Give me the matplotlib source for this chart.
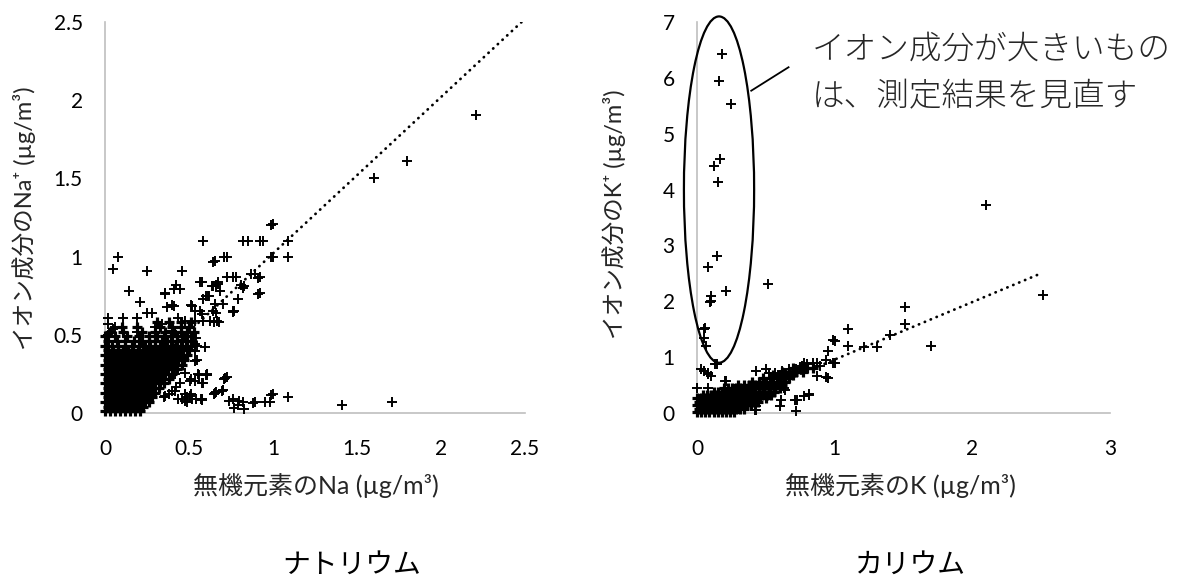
import matplotlib
matplotlib.use("Agg")
import matplotlib.pyplot as plt
import matplotlib.patches as mpatches

FONTS = ["Lato", "Noto Sans CJK JP", "DejaVu Sans"]
plt.rcParams["font.family"] = FONTS

BG = "#FFFFFF"
INK = "#000000"
TEXT = "#262626"
AXIS = "#BFBFBF"

# ---- sodium panel ----
# dense core, read row by row (y level -> x positions)
NA_ROW_Y = [0.01, 0.04, 0.07, 0.10, 0.13, 0.16, 0.19, 0.22, 0.25, 0.28,
            0.31, 0.34, 0.37, 0.40, 0.43, 0.46, 0.49, 0.52, 0.55, 0.58]
NA_ROW_X = [
    [0.00, 0.03, 0.06, 0.09, 0.12, 0.15, 0.18, 0.21],
    [0.015, 0.045, 0.075, 0.105, 0.135, 0.165, 0.195, 0.225],
    [0.00, 0.03, 0.06, 0.09, 0.12, 0.15, 0.18, 0.21, 0.24, 0.26],
    [0.015, 0.045, 0.075, 0.105, 0.135, 0.165, 0.195, 0.225, 0.255, 0.28],
    [0.00, 0.03, 0.06, 0.09, 0.12, 0.15, 0.18, 0.21, 0.24, 0.27, 0.30],
    [0.015, 0.045, 0.075, 0.105, 0.135, 0.165, 0.195, 0.225, 0.255, 0.285, 0.32],
    [0.00, 0.03, 0.06, 0.09, 0.12, 0.15, 0.18, 0.21, 0.24, 0.27, 0.30, 0.33, 0.35],
    [0.015, 0.045, 0.075, 0.105, 0.135, 0.165, 0.195, 0.225, 0.255, 0.285, 0.315, 0.345, 0.38],
    [0.00, 0.03, 0.06, 0.09, 0.12, 0.15, 0.18, 0.21, 0.24, 0.27, 0.30, 0.33, 0.36, 0.40],
    [0.015, 0.045, 0.075, 0.105, 0.135, 0.165, 0.195, 0.225, 0.255, 0.285, 0.315, 0.345, 0.375, 0.405, 0.43],
    [0.00, 0.03, 0.06, 0.09, 0.12, 0.15, 0.18, 0.21, 0.24, 0.27, 0.30, 0.33, 0.36, 0.39, 0.42, 0.46],
    [0.015, 0.045, 0.075, 0.105, 0.135, 0.165, 0.195, 0.225, 0.255, 0.285, 0.315, 0.345, 0.375, 0.405, 0.435, 0.47],
    [0.00, 0.03, 0.06, 0.09, 0.12, 0.15, 0.18, 0.21, 0.24, 0.27, 0.30, 0.33, 0.36, 0.39, 0.42, 0.45, 0.49],
    [0.015, 0.045, 0.075, 0.105, 0.135, 0.165, 0.195, 0.225, 0.255, 0.285, 0.315, 0.345, 0.375, 0.405, 0.435, 0.465, 0.50],
    [0.00, 0.04, 0.08, 0.12, 0.16, 0.20, 0.24, 0.27, 0.30, 0.33, 0.36, 0.39, 0.42, 0.45, 0.48, 0.51],
    [0.02, 0.07, 0.12, 0.17, 0.22, 0.26, 0.30, 0.34, 0.37, 0.40, 0.43, 0.46, 0.49, 0.52],
    [0.00, 0.06, 0.13, 0.20, 0.26, 0.31, 0.35, 0.39, 0.43, 0.47, 0.51],
    [0.03, 0.11, 0.22, 0.30, 0.36, 0.41, 0.45, 0.49, 0.53],
    [0.10, 0.19, 0.33, 0.40, 0.45, 0.50],
    [0.31, 0.38, 0.45, 0.51],
]
# scattered points outside the core
NA_X = [2.21, 1.80, 1.60, 1.41, 1.71, 1.00, 0.585, 0.85, 0.94, 1.09, 1.00, 1.09,
        0.08, 0.05, 0.25, 0.456, 0.656, 0.725, 0.144, 0.21, 0.25, 0.28, 0.36, 0.42,
        0.445, 0.41, 0.58, 0.66, 0.67, 0.725, 0.78, 0.83, 0.89, 0.92, 0.92, 0.77,
        0.66, 0.79, 0.60, 0.62, 0.51, 0.40, 0.015, 0.015, 0.06, 0.11, 0.19, 0.02,
        0.65, 0.68, 0.54, 0.55, 0.49, 0.55, 0.725, 0.66, 0.70, 0.60, 0.56, 0.51,
        0.445, 0.42, 0.38, 0.35, 0.456, 0.49, 0.54, 0.57, 0.49, 0.51, 0.76, 0.79,
        0.82, 0.83, 0.89, 0.95, 0.98, 1.00, 1.09, 0.74, 0.77, 0.80, 0.88, 0.99,
        0.61, 0.58, 0.71, 0.65, 0.70, 0.58, 0.645, 0.71, 0.76, 0.87, 0.81, 0.82,
        0.76, 0.645, 0.675, 0.685, 0.585, 0.615, 0.655, 0.70, 0.645, 0.665, 0.625,
        0.585, 0.82, 0.92, 0.99, 0.565, 0.99, 0.357, 0.367, 0.41, 0.516, 0.565,
        0.764, 0.913, 0.913, 0.635, 0.575, 0.536, 0.536, 0.476, 0.436, 0.129, 0.188,
        0.298, 0.337, 0.397, 0.536, 0.536, 0.536, 0.595, 0.555, 0.605, 0.585, 0.714,
        0.417, 0.476, 0.506, 0.536, 0.655, 0.695, 0.436, 0.476, 0.516, 0.576,
        0.476, 0.506, 0.417, 0.357, 0.397, 0.02, 0.05]
NA_Y = [1.905, 1.61, 1.50, 0.05, 0.07, 1.21, 1.10, 1.10, 1.10, 1.10, 1.00, 1.00,
        1.00, 0.92, 0.91, 0.905, 0.97, 1.00, 0.777, 0.71, 0.64, 0.64, 0.77, 0.82,
        0.79, 0.79, 0.84, 0.82, 0.84, 0.87, 0.87, 0.81, 0.89, 0.87, 0.77, 0.655,
        0.64, 0.73, 0.745, 0.745, 0.69, 0.69, 0.606, 0.57, 0.548, 0.606, 0.606, 0.50,
        0.584, 0.584, 0.477, 0.43, 0.37, 0.34, 0.23, 0.135, 0.145, 0.24, 0.24, 0.22,
        0.19, 0.167, 0.124, 0.10, 0.092, 0.07, 0.092, 0.092, 0.103, 0.124, 0.092, 0.049,
        0.07, 0.028, 0.07, 0.07, 0.07, 0.124, 0.103, 0.077, 0.03, 0.077, 0.064, 0.115,
        0.24, 0.19, 0.22, 0.12, 0.15, 0.08, 0.963, 1.00, 0.87, 0.89, 0.82, 0.80,
        0.65, 0.81, 0.825, 0.78, 0.73, 0.75, 0.70, 0.70, 0.65, 0.59, 0.59,
        0.59, 1.10, 1.10, 1.205, 0.835, 1.00, 0.76, 0.68, 0.686, 0.686, 0.65,
        0.647, 0.76, 0.86, 0.814, 0.63, 0.654, 0.59, 0.59, 0.61, 0.483, 0.515,
        0.547, 0.568, 0.526, 0.44, 0.397, 0.333, 0.419, 0.248, 0.248, 0.194, 0.226,
        0.248, 0.258, 0.205, 0.205, 0.13, 0.141, 0.088, 0.077, 0.088, 0.088,
        0.12, 0.109, 0.141, 0.109, 0.141, 0.483, 0.537]
NA_TREND_X = [0.0, 2.48]
NA_TREND_Y = [0.02, 2.50]
NA_XTICKS = [0, 0.5, 1, 1.5, 2, 2.5]
NA_XLABELS = ["0", "0.5", "1", "1.5", "2", "2.5"]
NA_YTICKS = [0, 0.5, 1, 1.5, 2, 2.5]
NA_YLABELS = ["0", "0.5", "1", "1.5", "2", "2.5"]

# ---- potassium panel ----
K_ROW_Y = [0.02, 0.08, 0.14, 0.20, 0.26, 0.32, 0.38, 0.44, 0.50, 0.56,
           0.62, 0.68, 0.74, 0.80]
K_ROW_X = [
    [0.00, 0.03, 0.06, 0.09, 0.12, 0.15, 0.18, 0.21, 0.24, 0.27],
    [0.015, 0.045, 0.075, 0.105, 0.135, 0.165, 0.195, 0.225, 0.255, 0.285, 0.315, 0.34],
    [0.00, 0.03, 0.06, 0.09, 0.12, 0.15, 0.18, 0.21, 0.24, 0.27, 0.30, 0.33, 0.36, 0.39],
    [0.015, 0.045, 0.075, 0.105, 0.135, 0.165, 0.195, 0.225, 0.255, 0.285, 0.315, 0.345, 0.375, 0.405, 0.44],
    [0.00, 0.03, 0.06, 0.09, 0.12, 0.15, 0.18, 0.21, 0.24, 0.27, 0.30, 0.33, 0.36, 0.39, 0.42, 0.46, 0.50],
    [0.045, 0.075, 0.105, 0.135, 0.165, 0.195, 0.225, 0.255, 0.285, 0.315, 0.345, 0.375, 0.405, 0.435, 0.47, 0.51, 0.54],
    [0.12, 0.15, 0.18, 0.21, 0.24, 0.27, 0.30, 0.33, 0.36, 0.39, 0.42, 0.45, 0.48, 0.52, 0.56],
    [0.195, 0.225, 0.255, 0.285, 0.315, 0.345, 0.375, 0.41, 0.45, 0.49, 0.53, 0.57, 0.60],
    [0.30, 0.34, 0.38, 0.42, 0.46, 0.50, 0.54, 0.58, 0.62],
    [0.40, 0.45, 0.50, 0.55, 0.60, 0.64],
    [0.48, 0.53, 0.58, 0.63, 0.67],
    [0.55, 0.60, 0.65, 0.70],
    [0.62, 0.67, 0.72, 0.77],
    [0.70, 0.75, 0.80, 0.84],
]
K_X = [0.185, 0.163, 0.244, 0.122, 0.168, 0.155, 0.144, 0.081, 0.212, 0.103,
       0.103, 0.095, 0.054, 0.049, 0.068, 0.06, 0.144, 0.516, 2.10, 2.51,
       1.51, 1.51, 1.70, 1.10, 1.00, 1.10, 1.21, 1.31, 1.40, 0.95, 1.00,
       0.87, 0.80, 0.79, 0.72, 0.87, 0.95, 0.64, 0.81, 0.73, 0.61, 0.60, 0.72,
       0.43, 0.50, 0.62, 0.57, 0.64, 0.71, 0.75, 0.43, 0.43,
       0.00, 0.08, 0.20, 0.03, 0.08, 0.08, 0.05, 0.10, 0.13, 0.21,
       0.99, 0.94, 0.99, 0.84, 0.89, 0.78, 0.94, 0.76, 0.67, 0.52, 0.63,
       0.71, 0.78, 0.81, 0.42]
K_Y = [6.43, 5.95, 5.53, 4.42, 4.54, 4.13, 2.81, 2.61, 2.19, 2.10,
       2.01, 1.98, 1.50, 1.35, 1.20, 1.53, 0.87, 2.31, 3.73, 2.12,
       1.90, 1.60, 1.20, 1.50, 1.29, 1.20, 1.19, 1.19, 1.39, 1.11, 0.90,
       0.90, 0.87, 0.81, 0.78, 0.66, 0.63, 0.42, 0.33, 0.24, 0.24, 0.12, 0.04,
       0.75, 0.78, 0.75, 0.72, 0.69, 0.75, 0.78, 0.06, 0.12,
       0.45, 0.44, 0.57, 0.79, 0.72, 0.70, 0.75, 0.66, 0.88, 0.57,
       1.31, 0.95, 0.90, 0.90, 0.84, 0.90, 0.65, 0.84, 0.79, 0.72, 0.44,
       0.23, 0.30, 0.34, 0.05]
K_TREND_X = [0.07, 2.48]
K_TREND_Y = [0.0, 2.48]
K_XTICKS = [0, 1, 2, 3]
K_XLABELS = ["0", "1", "2", "3"]
K_YTICKS = [0, 1, 2, 3, 4, 5, 6, 7]
K_YLABELS = ["0", "1", "2", "3", "4", "5", "6", "7"]


def expand_rows(row_y, row_x):
    xs, ys = [], []
    for y, row in zip(row_y, row_x):
        xs += row
        ys += [y] * len(row)
    return xs, ys


def style_axes(ax, xlim, ylim, xticks, xlabels, yticks, ylabels):
    ax.set_facecolor(BG)
    ax.set_xlim(*xlim)
    ax.set_ylim(*ylim)
    for side in ("top", "right"):
        ax.spines[side].set_visible(False)
    for side in ("left", "bottom"):
        ax.spines[side].set_color(AXIS)
        ax.spines[side].set_linewidth(1.2)
    ax.set_xticks(xticks)
    ax.set_xticklabels(xlabels)
    ax.set_yticks(yticks)
    ax.set_yticklabels(ylabels)
    ax.tick_params(axis="x", length=0, pad=19, labelsize=15, labelcolor=INK)
    ax.tick_params(axis="y", length=0, pad=16, labelsize=15, labelcolor=INK)


def draw_points(ax, xs, ys, mew=1.4):
    ax.plot(xs, ys, linestyle="none", marker="+", markersize=7,
            markeredgewidth=mew, color=INK, clip_on=False, zorder=3)


W, H = 1178, 582
fig = plt.figure(figsize=(W / 100, H / 100), dpi=100, facecolor=BG)

axL = fig.add_axes([105 / W, 1 - 413 / H, 420 / W, 391 / H])
axR = fig.add_axes([697 / W, 1 - 413 / H, 413 / W, 391 / H])

style_axes(axL, (0, 2.5), (0, 2.5), NA_XTICKS, NA_XLABELS, NA_YTICKS, NA_YLABELS)
style_axes(axR, (0, 3), (0, 7), K_XTICKS, K_XLABELS, K_YTICKS, K_YLABELS)

# heavily overplotted core is drawn with a heavier stroke so it reads as solid
bx, by = expand_rows(NA_ROW_Y, NA_ROW_X)
draw_points(axL, bx, by, mew=2.3)
draw_points(axL, NA_X, NA_Y)
axL.plot(NA_TREND_X, NA_TREND_Y, color=INK, linewidth=2.0,
         linestyle=(0, (0.1, 2.2)), dash_capstyle="round", zorder=2)

bx, by = expand_rows(K_ROW_Y, K_ROW_X)
draw_points(axR, bx, by, mew=2.3)
draw_points(axR, K_X, K_Y)
axR.plot(K_TREND_X, K_TREND_Y, color=INK, linewidth=2.0,
         linestyle=(0, (0.1, 2.2)), dash_capstyle="round", zorder=2)

# circled outliers + callout
axR.add_patch(mpatches.Ellipse((0.16, 4.0), 0.51, 6.2, fill=False,
                               edgecolor=INK, linewidth=1.6, clip_on=False, zorder=4))
axR.plot([0.394, 0.665], [5.77, 6.19], color=INK, linewidth=1.3,
         clip_on=False, zorder=4)
fig.text(812 / W, 1 - 50 / H, "イオン成分が大きいもの", fontsize=23.5,
         ha="left", va="center", color=TEXT, fontweight="light")
fig.text(812 / W, 1 - 97 / H, "は、測定結果を見直す", fontsize=23.5,
         ha="left", va="center", color=TEXT, fontweight="light")

# axis titles
fig.text(24 / W, 1 - 218 / H, "イオン成分のNa⁺ (µg/m³)", rotation=90,
         fontsize=17, ha="center", va="center", color=TEXT)
fig.text(614 / W, 1 - 214 / H, "イオン成分のK⁺ (µg/m³)", rotation=90,
         fontsize=17, ha="center", va="center", color=TEXT)
fig.text(316 / W, 1 - 486 / H, "無機元素のNa (µg/m³)",
         fontsize=18, ha="center", va="center", color=TEXT)
fig.text(900 / W, 1 - 486 / H, "無機元素のK (µg/m³)",
         fontsize=18, ha="center", va="center", color=TEXT)

# panel names
fig.text(352 / W, 1 - 565 / H, "ナトリウム", fontsize=20,
         ha="center", va="center", color=INK)
fig.text(910 / W, 1 - 565 / H, "カリウム", fontsize=20,
         ha="center", va="center", color=INK)

plt.savefig("out.png", dpi=100, facecolor=BG)
